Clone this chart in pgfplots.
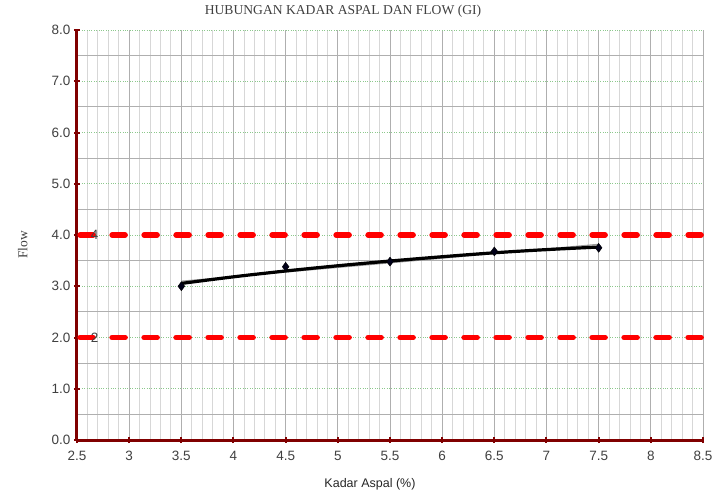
\documentclass[border=0pt]{standalone}
\usepackage{pgfplots}
\pgfplotsset{compat=1.18}
\usepackage{fontspec}
\setmainfont{Liberation Sans}
\newfontfamily\seriffont{Liberation Serif}
\definecolor{darkred}{RGB}{128,0,0}
\definecolor{gridgreen}{RGB}{140,200,140}
\definecolor{minorgrey}{RGB}{215,215,215}
\definecolor{majorgrey}{RGB}{175,175,175}
\definecolor{txtgrey}{RGB}{64,64,64}
\begin{document}
\begin{tikzpicture}
\useasboundingbox (-77pt,-53pt) rectangle (638pt,440pt);
\begin{axis}[
  scale only axis,
  width=626pt, height=410pt,
  xmin=2.5, xmax=8.5, ymin=0, ymax=8,
  xtick={2.5,3,...,8.5},
  ytick={0,1,...,8},
  minor x tick num=4,
  minor y tick num=1,
  xmajorgrids, xminorgrids, ymajorgrids, yminorgrids,
  major x grid style={majorgrey, line width=0.8pt},
  minor x grid style={minorgrey, line width=0.8pt},
  major y grid style={gridgreen, dotted, line width=0.8pt},
  minor y grid style={majorgrey, line width=0.8pt},
  axis x line*=bottom, axis y line*=left,
  axis line style={darkred, line width=3pt, -},
  major tick style={darkred, line width=2pt},
  major tick length=6pt,
  minor tick length=0pt,
  tick align=center,
  /pgf/number format/assume math mode=true,
  ticklabel style={font=\fontsize{13.5}{15}\selectfont, text=txtgrey},
  yticklabel style={/pgf/number format/.cd, fixed, fixed zerofill, precision=1},
  xticklabel style={yshift=-5pt, /pgf/number format/.cd, fixed, precision=1},
  title={\seriffont HUBUNGAN KADAR ASPAL DAN FLOW (GI)},
  title style={at={(0.425,1)}, anchor=south, yshift=3pt, font=\fontsize{13.6}{15}\selectfont, text=txtgrey},
  xlabel={Kadar Aspal (\%)},
  xlabel style={at={(0.468,0)}, anchor=north, yshift=-35pt, font=\fontsize{12.5}{15}\selectfont, text=black!85},
  ylabel={\seriffont Flow},
  ylabel style={at={(0,0.476)}, anchor=south, xshift=0pt, yshift=46pt, font=\fontsize{13.5}{15}\selectfont, text=txtgrey},
  clip=false,
]
% limit lines
\addplot[red, line width=5.5pt, line cap=round, dash pattern=on 13pt off 19pt] coordinates {(2.53,4) (8.5,4)};
\addplot[red, line width=5.5pt, line cap=round, dash pattern=on 13pt off 19pt] coordinates {(2.53,2) (8.5,2)};
\node[text=txtgrey, font=\fontsize{13.5}{15}\selectfont] at (axis cs:2.67,4) {4};
\node[text=txtgrey, font=\fontsize{13.5}{15}\selectfont] at (axis cs:2.67,2) {2};
% thin linear trend
\addplot[gray!80, line width=1.2pt] coordinates {(3.5,3.098) (7.5,3.818)};
% thick log trend
\addplot[black, line width=3.2pt, smooth] coordinates {
(3.5,3.055)(4,3.184)(4.5,3.298)(5,3.400)(5.5,3.492)(6,3.576)(6.5,3.653)(7,3.715)(7.5,3.765)};
% data points
\addplot[only marks, mark=diamond*, mark size=4.5pt, mark options={fill=black!90!blue, draw=black}] coordinates {
(3.5,3.00)(4.5,3.38)(5.5,3.48)(6.5,3.68)(7.5,3.75)};
\end{axis}
\end{tikzpicture}
\end{document}
